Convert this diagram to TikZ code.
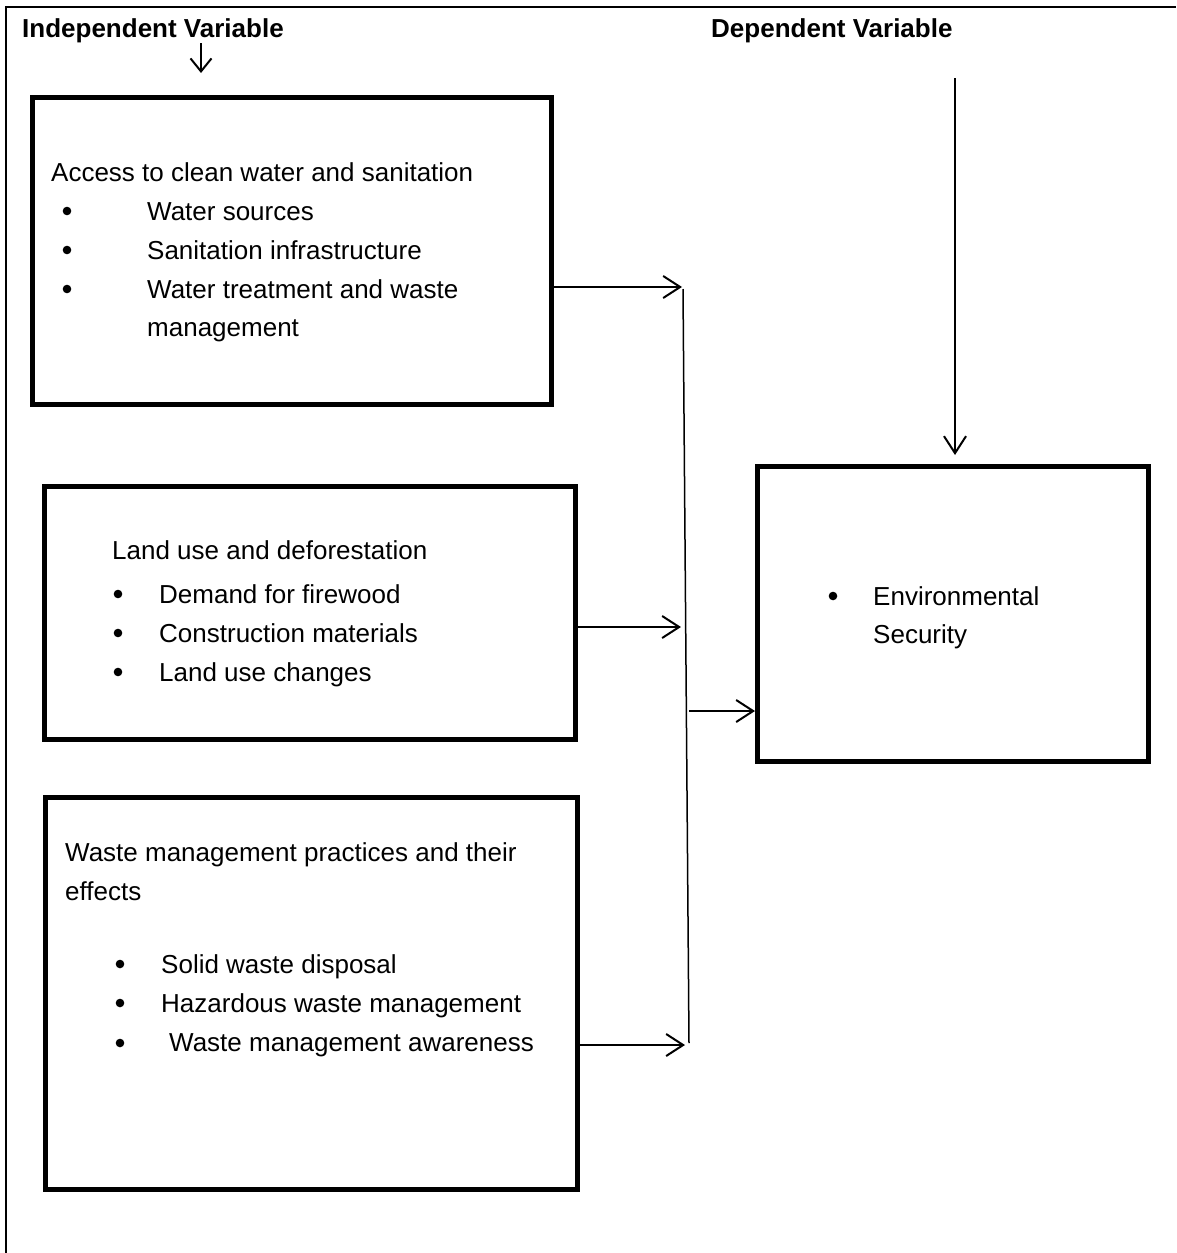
\documentclass[tikz,border=0pt]{standalone}
\usepackage{fontspec}
\setmainfont{Liberation Sans}
\usetikzlibrary{arrows.meta}
\tikzset{
  box/.style={draw, line width=5pt, anchor=north west, inner sep=0pt},
  txt/.style={anchor=base west, inner sep=0pt, font=\fontsize{26}{30}\selectfont},
  head/.style={anchor=base west, inner sep=0pt, font=\fontsize{26}{30}\selectfont\bfseries},
  arr/.style={line width=2pt, -{Straight Barb[length=17pt,width=22pt,line width=2pt]}},
  frame/.style={line width=2pt},
}
\newcommand{\bul}[2]{\fill (#1,#2) circle (4.3);}
\begin{document}
\begin{tikzpicture}[x=1pt,y=-1pt]
\useasboundingbox (0,0) rectangle (1176,1253);
% outer frame
\draw[frame] (6,1253) -- (6,7) -- (1176,7);
% headers
\node[head] (hind) at (22,37) {Independent Variable};
\node[head] (hdep) at (711,37) {Dependent Variable};
\coordinate (ia1) at (201,43);
\coordinate (ia2) at (201,73);
\draw[line width=2pt, -{Straight Barb[length=13pt,width=21pt,line width=2pt]}] (ia1) -- (ia2);
% boxes
\node[box, minimum width=519, minimum height=307] (b1) at (30,95) {};
\node[box, minimum width=531, minimum height=253] (b2) at (41.5,483.5) {};
\node[box, minimum width=532, minimum height=392] (b3) at (43,795) {};
\node[box, minimum width=391, minimum height=295] (b4) at (755,464) {};
% box 1 text
\node[txt] (t11) at (51,181) {Access to clean water and sanitation};
\bul{67}{211}\node[txt] (t12) at (147,220) {Water sources};
\bul{67}{250}\node[txt] (t13) at (147,259) {Sanitation infrastructure};
\bul{67}{289}\node[txt] (t14) at (147,298) {Water treatment and waste};
\node[txt] (t15) at (147,336) {management};
% box 2 text
\node[txt] (t21) at (112,559) {Land use and deforestation};
\bul{118}{594}\node[txt] (t22) at (159,603) {Demand for firewood};
\bul{118}{633}\node[txt] (t23) at (159,642) {Construction materials};
\bul{118}{672}\node[txt] (t24) at (159,681) {Land use changes};
% box 3 text
\node[txt] (t31) at (65,861) {Waste management practices and their};
\node[txt] (t32) at (65,900) {effects};
\bul{120}{964}\node[txt] (t33) at (161,973) {Solid waste disposal};
\bul{120}{1003}\node[txt] (t34) at (161,1012) {Hazardous waste management};
\bul{120}{1043}\node[txt] (t35) at (169,1051) {Waste management awareness};
% box 4 text
\bul{833}{596}\node[txt] (t41) at (873,605) {Environmental};
\node[txt] (t42) at (873,643) {Security};
% collector line
\coordinate (ctop) at (683,289);
\coordinate (cbot) at (689,1043);
\draw[line width=1.5pt] (ctop) -- (cbot);
\coordinate (c1) at (682,287);
\coordinate (c2) at (681,627);
\coordinate (c3) at (685,1045);
\coordinate (c4) at (689,711);
\draw[arr] (b1.east |- c1) -- (c1);
\draw[arr] ([xshift=-4pt]b2.east |- c2) -- (c2);
\draw[arr] (b3.east |- c3) -- (c3);
\draw[arr] (c4) -- (b4.west |- c4);
\coordinate (dtop) at (955,78);
\draw[arr, shorten >=9pt] (dtop) -- (b4.north -| dtop);
\end{tikzpicture}
\end{document}
